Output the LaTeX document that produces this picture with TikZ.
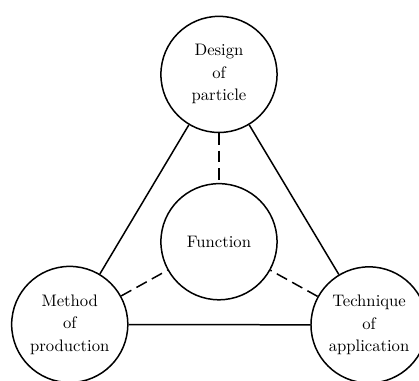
\documentclass[tikz,border=0pt]{standalone}
\usepackage{tikz}
\usetikzlibrary{positioning, calc}

\begin{document}
\begin{tikzpicture}[
        blob/.style={circle, draw=black, line width=0.9pt, minimum size=2.45cm, inner sep=0pt, align=center, font={\fontsize{10}{13.5}\selectfont}},
        tie/.style={line width=0.9pt, draw=black},
        softtie/.style={tie, dash pattern=on 7pt off 3.5pt}
    ]
        \useasboundingbox (-4.62,-2.93) rectangle (4.22,5.10);

        % --- CENTRE ---
        \node[blob] (function) at (0,0) {Function};

        % --- OUTER CORNERS ---
        \node[blob] (design) at ([shift={(90:3.53cm)}]function) {Design\\of\\particle};
        \node[blob] (method) at ([shift={(209:3.60cm)}]function) {Method\\of\\production};
        \node[blob] (technique) at ([shift={(331:3.62cm)}]function) {Technique\\of\\application};

        % --- OUTER TRIANGLE ---
        \draw[tie] (design) -- (method);
        \draw[tie] (design) -- (technique);
        \draw[tie] (method) -- (technique);

        % --- SPOKES TO CENTRE ---
        \draw[softtie] (design) -- (function);
        \draw[softtie] (method) -- (function);
        \draw[softtie] (technique) -- (function);

    \end{tikzpicture}
\end{document}
